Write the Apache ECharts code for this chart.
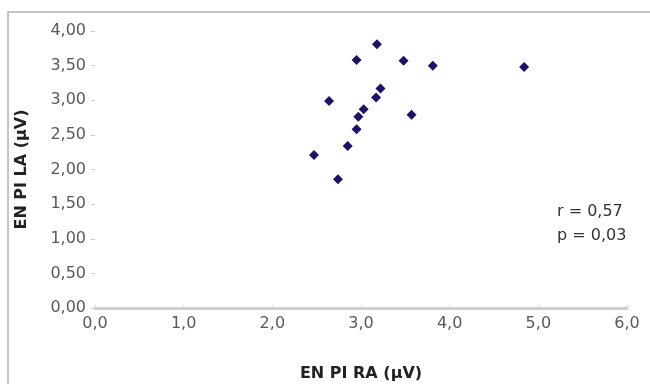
<!DOCTYPE html>
<html>
<head>
<meta charset="utf-8">
<script src="https://cdn.jsdelivr.net/npm/echarts@6/dist/echarts.min.js"></script>
<style>
  html, body { margin: 0; padding: 0; background: #fff; }
  #chart { width: 650px; height: 384px; }
</style>
</head>
<body>
<div id="chart"></div>
<script>
// EN PI RA (x) vs EN PI LA (y)
const raValues = [3.18, 2.95, 3.48, 3.81, 4.84, 3.22, 3.17, 2.64, 3.03, 2.97, 3.57, 2.95, 2.85, 2.47, 2.74]
const laValues = [3.81, 3.58, 3.57, 3.50, 3.48, 3.17, 3.04, 2.99, 2.87, 2.76, 2.79, 2.58, 2.34, 2.21, 1.86]
const statLines = ['r = 0,57', 'p = 0,03']

const points = raValues.map((x, i) => [x, laValues[i]])
const comma = (v, d) => v.toFixed(d).replace('.', ',')

const chart = echarts.init(document.getElementById('chart'))
chart.setOption({
  animation: false,
  backgroundColor: '#fff',
  textStyle: {fontFamily: 'DejaVu Sans'},
  grid: {left: 95, right: 23, top: 31, bottom: 76, outerBoundsMode: 'none'},
  xAxis: {
    type: 'value',
    min: 0, max: 6, interval: 1,
    name: 'EN PI RA (µV)',
    nameLocation: 'middle',
    nameGap: 58,
    nameTextStyle: {fontSize: 16, fontWeight: 'bold', color: '#222'},
    axisLine: {lineStyle: {color: '#cfcfcf', width: 3}},
    axisTick: {show: true, length: 3, inside: true, lineStyle: {color: '#d8d8d8'}},
    axisLabel: {fontSize: 16, color: '#5a5a5a', margin: 8, formatter: v => comma(v, 1)},
    splitLine: {show: false}
  },
  yAxis: {
    type: 'value',
    min: 0, max: 4, interval: 0.5,
    name: 'EN PI LA (µV)',
    nameLocation: 'middle',
    nameGap: 65,
    nameTextStyle: {fontSize: 16, fontWeight: 'bold', color: '#222'},
    axisLine: {show: false},
    axisTick: {show: true, length: 4, lineStyle: {color: '#ccc'}},
    axisLabel: {fontSize: 16, color: '#5a5a5a', margin: 9, formatter: v => comma(v, 2)},
    splitLine: {show: false}
  },
  graphic: [
    {
      type: 'rect', silent: true, z: -1,
      shape: {x: 8, y: 12, width: 700, height: 400},
      style: {fill: 'none', stroke: '#c4c4c4', lineWidth: 2}
    },
    {
      type: 'text', left: 557, top: 200,
      style: {text: statLines.join('\n'), font: '16px "DejaVu Sans"', fill: '#333', lineHeight: 24}
    }
  ],
  series: [{
    type: 'scatter',
    data: points,
    symbol: 'diamond',
    symbolSize: 10,
    itemStyle: {color: '#1c1268', opacity: 1}
  }]
})
</script>
</body>
</html>
